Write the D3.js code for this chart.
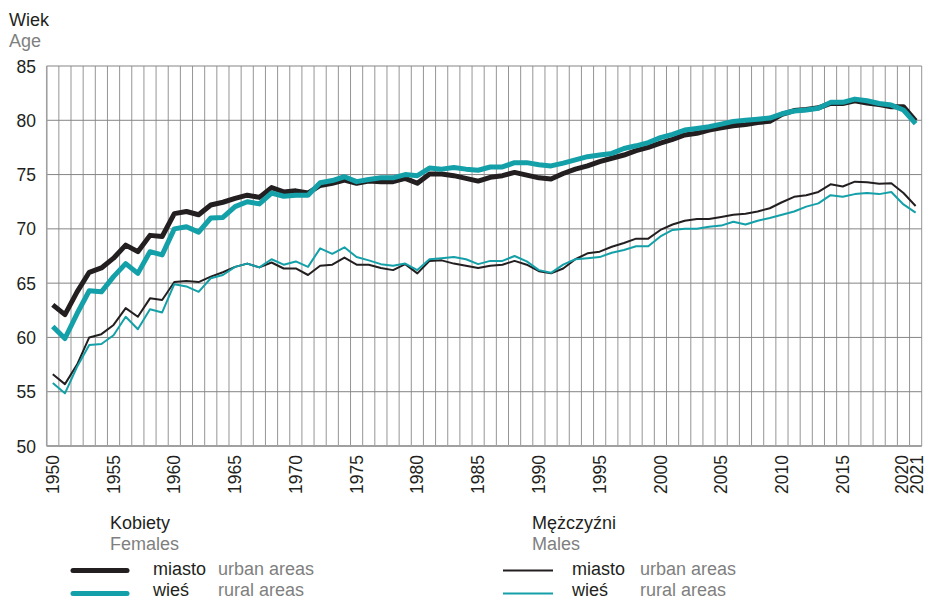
<!DOCTYPE html>
<html>
<head>
<meta charset="utf-8">
<script src="https://cdn.jsdelivr.net/npm/d3@7"></script>
<style>
  body { margin: 0; background: #fff; }
  svg text { font-family: "Liberation Sans", Arial, sans-serif; }
</style>
</head>
<body>
<svg id="chart" width="929" height="599"></svg>
<script>
// ---------- data ----------
const years = d3.range(1950, 2022);

const femaleUrban = [
  63.0, 62.1, 64.2, 66.0, 66.4, 67.3, 68.5, 67.9, 69.4, 69.3,
  71.4, 71.6, 71.3, 72.2, 72.45, 72.8, 73.1, 72.9, 73.8, 73.4,
  73.5, 73.3, 74.0, 74.2, 74.5, 74.2, 74.4, 74.35, 74.35, 74.65,
  74.2, 75.05, 75.05, 74.9, 74.65, 74.4, 74.75, 74.9, 75.2, 74.95,
  74.7, 74.6, 75.1, 75.5, 75.8, 76.2, 76.5, 76.8, 77.2, 77.5,
  77.9, 78.25, 78.65, 78.8, 79.1, 79.3, 79.5, 79.6, 79.8, 79.9,
  80.55, 80.9, 81.0, 81.15, 81.55, 81.55, 81.8, 81.6, 81.45, 81.25,
  81.25, 79.95
];
const femaleRural = [
  61.0, 59.9, 62.2, 64.3, 64.2, 65.6, 66.8, 65.9, 67.9, 67.6,
  70.0, 70.2, 69.7, 71.0, 71.05, 72.05, 72.5, 72.3, 73.3, 73.0,
  73.1, 73.1, 74.25, 74.45, 74.8, 74.35, 74.55, 74.7, 74.7, 75.0,
  74.9, 75.6, 75.5, 75.65, 75.5, 75.4, 75.7, 75.7, 76.1, 76.1,
  75.9, 75.8, 76.05, 76.35, 76.65, 76.8, 76.95, 77.4, 77.65, 77.95,
  78.4, 78.7, 79.1, 79.25, 79.4, 79.65, 79.9, 80.0, 80.1, 80.2,
  80.6, 80.85, 80.95, 81.1, 81.65, 81.65, 81.95, 81.8, 81.55, 81.4,
  80.95, 79.7
];
const maleUrban = [
  56.6, 55.7, 57.5, 60.0, 60.3, 61.15, 62.7, 61.9, 63.6, 63.45,
  65.1, 65.2, 65.1, 65.6, 66.0, 66.5, 66.8, 66.45, 66.9, 66.35,
  66.35, 65.75, 66.6, 66.7, 67.35, 66.7, 66.7, 66.4, 66.2, 66.75,
  65.9, 67.05, 67.1, 66.8, 66.6, 66.4, 66.6, 66.7, 67.05, 66.7,
  66.1, 65.9, 66.35, 67.2, 67.75, 67.9, 68.35, 68.7, 69.1, 69.1,
  69.9, 70.4, 70.75, 70.9, 70.9, 71.1, 71.3, 71.4, 71.6, 71.9,
  72.45, 72.95, 73.1, 73.4, 74.1, 73.9, 74.35, 74.3, 74.15, 74.2,
  73.3, 72.1
];
const maleRural = [
  55.8, 54.85, 57.3, 59.3, 59.4, 60.2, 61.9, 60.75, 62.6, 62.3,
  64.9, 64.7, 64.2, 65.45, 65.75, 66.5, 66.8, 66.45, 67.2, 66.7,
  67.0, 66.5, 68.2, 67.7, 68.3, 67.4, 67.1, 66.75, 66.6, 66.8,
  66.2, 67.2, 67.3, 67.4, 67.2, 66.75, 67.05, 67.05, 67.5, 67.0,
  66.2, 65.95, 66.7, 67.2, 67.3, 67.4, 67.8, 68.05, 68.4, 68.4,
  69.3, 69.9, 70.0, 70.0, 70.2, 70.3, 70.65, 70.4, 70.75, 71.0,
  71.3, 71.6, 72.05, 72.35, 73.1, 72.95, 73.2, 73.3, 73.2, 73.4,
  72.25, 71.5
];

const xTickYears = [1950, 1955, 1960, 1965, 1970, 1975, 1980, 1985, 1990,
                    1995, 2000, 2005, 2010, 2015, 2020, 2021];
const yTicks = [50, 55, 60, 65, 70, 75, 80, 85];

// ---------- styles ----------
const BLACK = "#231f20";
const TEAL  = "#14a0a8";
const GRAY_TXT = "#7f7f7f";
const TICK_FONT = 17.5;   // axis numbers
const FONT = 18;          // titles + legend

const plot = { left: 46.7, right: 921.7, top: 66, bottom: 446 };

const svg = d3.select("#chart");

const x = d3.scaleBand()
  .domain(years)
  .range([plot.left, plot.right])
  .padding(0);

const y = d3.scaleLinear()
  .domain([50, 85])
  .range([plot.bottom, plot.top]);

// ----------
// Grid
// =================
const grid = svg.append("g");
const edges = years.map(d => x(d)).concat([plot.right]);

grid.selectAll(".vgrid")
  .data(edges)
  .enter()
  .append("line")
  .attr("x1", d => d).attr("x2", d => d)
  .attr("y1", plot.top).attr("y2", plot.bottom)
  .attr("stroke", "#959595")
  .attr("stroke-width", 1);

grid.selectAll(".hgrid")
  .data(yTicks)
  .enter()
  .append("line")
  .attr("x1", plot.left).attr("x2", plot.right)
  .attr("y1", d => y(d)).attr("y2", d => y(d))
  .attr("stroke", "#858585")
  .attr("stroke-width", 1);

// axis frame (left + bottom a bit heavier)
svg.append("line")
  .attr("x1", plot.left).attr("x2", plot.right)
  .attr("y1", plot.bottom).attr("y2", plot.bottom)
  .attr("stroke", "#a0a0a0").attr("stroke-width", 2);
svg.append("line")
  .attr("x1", plot.left).attr("x2", plot.left)
  .attr("y1", plot.top).attr("y2", plot.bottom)
  .attr("stroke", "#a0a0a0").attr("stroke-width", 1.5);

// ----------
// Y labels
// =================
svg.selectAll(".ylab")
  .data(yTicks)
  .enter()
  .append("text")
  .attr("x", 36)
  .attr("y", d => y(d) + 6.5)
  .attr("text-anchor", "end")
  .attr("font-size", TICK_FONT)
  .attr("fill", BLACK)
  .text(d => d);

svg.append("text").attr("x", 9).attr("y", 25.5)
  .attr("font-size", FONT).attr("fill", BLACK).text("Wiek");
svg.append("text").attr("x", 9).attr("y", 46.5)
  .attr("font-size", FONT).attr("fill", GRAY_TXT).text("Age");

// ----------
// X labels
// =================
// last two labels are pushed apart a little so they don't touch
const nudge = { 2020: -2, 2021: 1.5 };

svg.selectAll(".xlab")
  .data(xTickYears)
  .enter()
  .append("text")
  .attr("transform", d => `translate(${x(d) + x.bandwidth() / 2 + (nudge[d] || 0)}, 455) rotate(-90)`)
  .attr("dy", "0.35em")
  .attr("text-anchor", "end")
  .attr("font-size", TICK_FONT)
  .attr("fill", BLACK)
  .text(d => d);

// ----------
// Lines
// =================
const series = [
  { values: femaleUrban, color: BLACK, width: 5 },
  { values: femaleRural, color: TEAL,  width: 5 },
  { values: maleUrban,   color: BLACK, width: 2 },
  { values: maleRural,   color: TEAL,  width: 2 }
];

const line = d3.line()
  .x((d, i) => x(years[i]) + x.bandwidth() / 2)
  .y(d => y(d));

svg.selectAll(".series")
  .data(series)
  .enter()
  .append("path")
  .attr("fill", "none")
  .attr("stroke", d => d.color)
  .attr("stroke-width", d => d.width)
  .attr("stroke-linejoin", "round")
  .attr("d", d => line(d.values));

// ----------
// Legend
// =================
const legends = [
  { x: 73,  titleX: 110, title: "Kobiety",   sub: "Females", width: 5, lineLen: 54, textX: 153, engX: 218 },
  { x: 503, titleX: 532, title: "Mężczyźni", sub: "Males",   width: 2, lineLen: 50, textX: 572, engX: 640 }
];

legends.forEach(l => {
  const g = svg.append("g");
  g.append("text").attr("x", l.titleX).attr("y", 529)
    .attr("font-size", FONT).attr("fill", BLACK).text(l.title);
  g.append("text").attr("x", l.titleX).attr("y", 550)
    .attr("font-size", FONT).attr("fill", GRAY_TXT).text(l.sub);

  const rows = [
    { color: BLACK, pl: "miasto", en: "urban areas", ly: 570.5, ty: 574.5 },
    { color: TEAL,  pl: "wieś",   en: "rural areas", ly: 593.5, ty: 595.5 }
  ];
  rows.forEach(r => {
    g.append("line")
      .attr("x1", l.x).attr("x2", l.x + l.lineLen)
      .attr("y1", r.ly).attr("y2", r.ly)
      .attr("stroke", r.color)
      .attr("stroke-width", l.width)
      .attr("stroke-linecap", l.width > 3 ? "round" : "butt");
    g.append("text").attr("x", l.textX).attr("y", r.ty)
      .attr("font-size", FONT).attr("fill", BLACK).text(r.pl);
    g.append("text").attr("x", l.engX).attr("y", r.ty)
      .attr("font-size", FONT).attr("fill", GRAY_TXT).text(r.en);
  });
});
</script>
</body>
</html>
